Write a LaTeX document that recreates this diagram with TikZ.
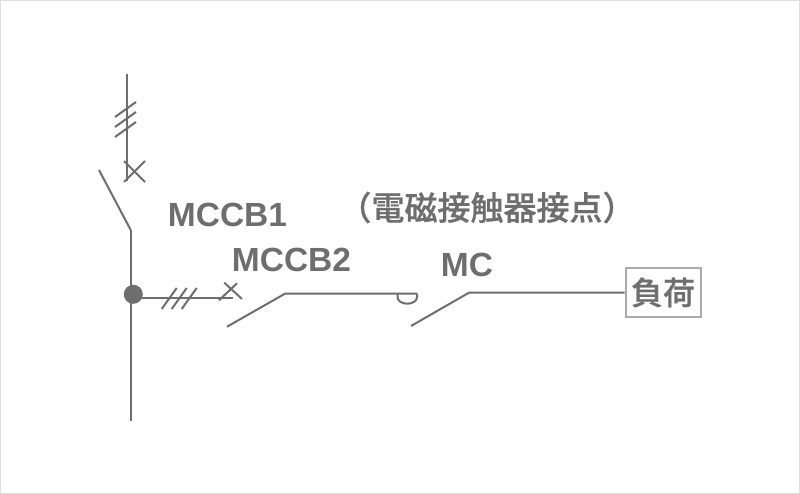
\documentclass[tikz,border=0pt]{standalone}
\usepackage{fontspec}
\setmainfont{Liberation Sans}
\newfontfamily\cjk[FakeBold=0.7]{Noto Sans CJK JP Medium}
\usetikzlibrary{positioning}
\tikzstyle{sheet} = [x = 1pt, y = -1pt]
\definecolor{lineColor}{RGB}{110,110,110}
\definecolor{frameColor}{RGB}{222,222,222}
\definecolor{boxColor}{RGB}{170,170,170}
\tikzstyle{wire} = [color=lineColor, line width=2pt]
\tikzstyle{busWire} = [color=lineColor, line width=2.4pt]
\tikzstyle{tick} = [color=lineColor, line width=2pt]
\tikzstyle{labelText} = [text=lineColor, inner sep=0pt, anchor=center, font=\fontsize{33.5}{33.5}\selectfont\bfseries]
\tikzstyle{cjkText} = [text=lineColor, inner sep=0pt, anchor=center, font=\fontsize{33}{33}\selectfont\cjk]
\tikzstyle{loadBox} = [draw=boxColor, line width=2pt, text=lineColor, inner sep=0pt, minimum width=75pt, minimum height=48pt, font=\fontsize{32}{32}\selectfont\cjk]
\newcommand{\crossMark}[5]{\draw [tick] (#1 - #3, #2 - #4) -- (#1 + #3, #2 + #4); \draw [tick] (#1 + #3, #2 - #5) -- (#1 - #3, #2 + #5);}
\begin{document}
\begin{tikzpicture}[sheet]
  \useasboundingbox (0,0) rectangle (800,494);
  \draw [frameColor, line width=1pt, fill=white] (.5,.5) rectangle (799.5,493.5);

  % incoming line
  \coordinate (topEnd) at (127,74);
  \coordinate (topStop) at (127,181);
  \draw [busWire] (topEnd) -- (topStop);
  \foreach \y in {0,10,20} {
    \draw [tick] (115,117 + \y) -- (136,102 + \y);
  }
  \crossMark{134.5}{171.5}{10.5}{10.5}{10.5}

  % first breaker and bus
  \coordinate (bladeOpen) at (99,170);
  \coordinate (bladeHinge) at (130.7,230);
  \coordinate (busEnd) at (130.7,421);
  \draw [wire] (bladeOpen) -- (bladeHinge);
  \draw [busWire] (bladeHinge) -- (busEnd);
  \node [circle, fill=lineColor, minimum size=19pt, inner sep=0pt] (busDot) at (133.3,294.3) {};

  % branch
  \coordinate (branchEnd) at (233,297.7);
  \draw [wire] (busDot.center |- branchEnd) -- (branchEnd);
  \foreach \x in {0,10,20} {
    \draw [tick] (161.7 + \x,309) -- (176.7 + \x,288);
  }
  \draw [tick] (224.3,282.7) -- (242,299);
  \draw [tick] (237,283.3) -- (219,300.3);

  % second breaker
  \coordinate (secondOpen) at (227,326.7);
  \coordinate (secondHinge) at (285,293.7);
  \coordinate (coilLeft) at (397.5,293.7);
  \coordinate (coilRight) at (417,293.7);
  \draw [wire] (secondOpen) -- (secondHinge) -- (coilRight);
  \draw [wire] (coilLeft) -- ++(0,3.5) arc [start angle=180, end angle=0, x radius=9.75, y radius=6.5] -- (coilRight);

  % contactor
  \node [loadBox] (load) at (663,292.5) {負荷};
  \coordinate (mcOpen) at (411,326);
  \coordinate (mcHinge) at (469.3,292.5);
  \draw [wire] (mcOpen) -- (mcHinge) -- (load.west);

  % labels
  \node [labelText] (labelFirst) at (227.5,214.5) {MCCB1};
  \node [labelText] (labelSecond) at (291.5,259.5) {MCCB2};
  \node [labelText] (labelContact) at (467,264.5) {MC};
  \node [cjkText] (labelNote) at (487,207.5) {（電磁接触器接点）};
\end{tikzpicture}
\end{document}
